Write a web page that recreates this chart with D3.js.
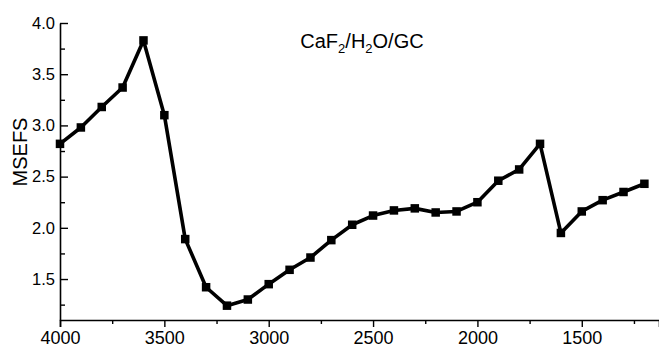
<!DOCTYPE html>
<html>
<head>
<meta charset="utf-8">
<script src="https://cdn.jsdelivr.net/npm/d3@7"></script>
<style>
  html, body { margin: 0; padding: 0; background: #fff; }
  svg { display: block; font-family: Arial, "Liberation Sans", sans-serif; }
</style>
</head>
<body>
<div id="chart"></div>
<script>
// wavenumber (cm-1), high to low
const wavenumbers = [4000, 3900, 3800, 3700, 3600, 3500, 3400, 3300, 3200, 3100, 3000, 2900, 2800, 2700, 2600,
                     2500, 2400, 2300, 2200, 2100, 2000, 1900, 1800, 1700, 1600, 1500, 1400, 1300, 1200];
const msefs = [2.82, 2.98, 3.18, 3.37, 3.83, 3.10, 1.89, 1.42, 1.24, 1.30, 1.45, 1.59, 1.71, 1.88, 2.03,
               2.12, 2.17, 2.19, 2.15, 2.16, 2.25, 2.46, 2.57, 2.82, 1.95, 2.16, 2.27, 2.35, 2.43];
const xTicks = [4000, 3500, 3000, 2500, 2000, 1500];
const xMinorTicks = [3750, 3250, 2750, 2250, 1750, 1250];
const yTicks = [1.5, 2.0, 2.5, 3.0, 3.5, 4.0];
const yMinorTicks = [1.25, 1.75, 2.25, 2.75, 3.25, 3.75];

const width = 659, height = 352;

const svg = d3.select('#chart').append('svg')
    .attr('width', width)
    .attr('height', height);

const x = d3.scaleLinear().domain([4000, 1130]).range([60, 659]);
const y = d3.scaleLinear().domain([1.1, 4.0]).range([320, 23]);

// bottom axis, ticks pointing out
const xAxis = svg.append('g').attr('transform', `translate(0,${y(1.1)})`);
xAxis.call(d3.axisBottom(x).tickValues(xTicks).tickFormat(d3.format('d')).tickSize(7).tickPadding(4));
xAxis.append('g').call(d3.axisBottom(x).tickValues(xMinorTicks).tickFormat('').tickSize(4))
    .select('.domain').remove();

// left axis, ticks pointing in
const yAxis = svg.append('g').attr('transform', `translate(${x(4000)},0)`);
yAxis.call(d3.axisLeft(y).tickValues(yTicks).tickFormat(d3.format('.1f')).tickSize(0).tickPadding(5));
yAxis.selectAll('.tick line').attr('x2', 8);
yAxis.append('g').call(d3.axisLeft(y).tickValues(yMinorTicks).tickFormat('').tickSize(0))
    .call(g => g.select('.domain').remove())
    .selectAll('.tick line').attr('x2', 5);

svg.selectAll('.domain').attr('stroke', '#000').attr('stroke-width', 1.6);
svg.selectAll('.tick line').attr('stroke', '#000').attr('stroke-width', 1.4);
xAxis.selectAll('.tick text').attr('font-size', 18).attr('fill', '#000');
yAxis.selectAll('.tick text').attr('font-size', 16.5).attr('fill', '#000');

// y title
svg.append('text')
    .attr('transform', 'translate(27,152) rotate(-90)')
    .attr('text-anchor', 'middle')
    .attr('font-size', 20)
    .text('MSEFS');

// series
const points = wavenumbers.map((w, i) => [w, msefs[i]]);
svg.append('path')
    .datum(points)
    .attr('fill', 'none')
    .attr('stroke', '#000')
    .attr('stroke-width', 3.6)
    .attr('stroke-linejoin', 'round')
    .attr('d', d3.line().x(d => x(d[0])).y(d => y(d[1])));

svg.append('g')
    .selectAll('rect')
    .data(points)
    .join('rect')
    .attr('x', d => x(d[0]) - 4.25)
    .attr('y', d => y(d[1]) - 4.25)
    .attr('width', 8.5)
    .attr('height', 8.5)
    .attr('fill', '#000');

// sample label
const lbl = svg.append('text')
    .attr('x', 362)
    .attr('y', 48)
    .attr('text-anchor', 'middle')
    .attr('font-size', 20);
lbl.append('tspan').text('CaF');
lbl.append('tspan').attr('font-size', 13).attr('dy', 5).text('2');
lbl.append('tspan').attr('dy', -5).text('/H');
lbl.append('tspan').attr('font-size', 13).attr('dy', 5).text('2');
lbl.append('tspan').attr('dy', -5).text('O/GC');
</script>
</body>
</html>
